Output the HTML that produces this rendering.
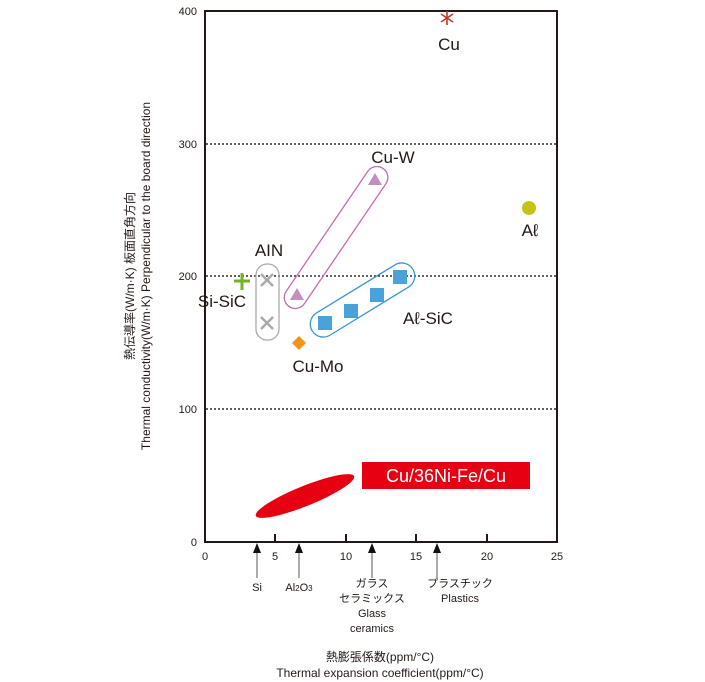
<!DOCTYPE html>
<html><head><meta charset="utf-8"><style>
body{margin:0;background:#fff}
svg{display:block;font-family:"Liberation Sans","Noto Sans CJK JP",sans-serif}
</style></head><body>
<svg width="705" height="682" viewBox="0 0 705 682">
<g stroke="#000" stroke-width="1.3" stroke-dasharray="2,2">
<line x1="206" y1="144" x2="556" y2="144"/><line x1="206" y1="276" x2="556" y2="276"/><line x1="206" y1="409" x2="556" y2="409"/>
</g>
<rect x="205" y="11" width="352" height="531" fill="none" stroke="#231815" stroke-width="2"/>
<g stroke="#231815" stroke-width="2">
<line x1="275" y1="542" x2="275" y2="534"/><line x1="346" y1="542" x2="346" y2="534"/><line x1="416" y1="542" x2="416" y2="534"/><line x1="487" y1="542" x2="487" y2="534"/>
</g>
<g font-size="11" fill="#231815" text-anchor="end">
<text x="197" y="15">400</text><text x="197" y="148">300</text><text x="197" y="280">200</text><text x="197" y="413">100</text><text x="197" y="546">0</text>
</g>
<g font-size="11" fill="#231815" text-anchor="middle">
<text x="205" y="560">0</text><text x="275" y="560">5</text><text x="346" y="560">10</text><text x="416" y="560">15</text><text x="487" y="560">20</text><text x="557" y="560">25</text>
</g>
<g stroke="#555" stroke-width="1">
<line x1="257" y1="550" x2="257" y2="578"/><line x1="299" y1="550" x2="299" y2="578"/><line x1="372" y1="550" x2="372" y2="578"/><line x1="437" y1="550" x2="437" y2="578"/>
</g>
<g fill="#111">
<polygon points="253,553 261,553 257,543"/><polygon points="295,553 303,553 299,543"/><polygon points="368,553 376,553 372,543"/><polygon points="433,553 441,553 437,543"/>
</g>
<g font-size="11" fill="#231815" text-anchor="middle">
<text x="257" y="591">Si</text>
<text x="299" y="591">Al<tspan font-size="8">2</tspan>O<tspan font-size="8">3</tspan></text>
<text x="372" y="587">ガラス</text><text x="372" y="602">セラミックス</text><text x="372" y="617">Glass</text><text x="372" y="632">ceramics</text>
<text x="460" y="587">プラスチック</text><text x="460" y="602">Plastics</text>
<text x="380" y="661" font-size="12">熱膨張係数(ppm/°C)</text>
<text x="380" y="677" font-size="12">Thermal expansion coefficient(ppm/°C)</text>
</g>
<g font-size="12" fill="#231815" text-anchor="middle">
<text transform="translate(134,276) rotate(-90)">熱伝導率(W/m·K) 板面直角方向</text>
<text transform="translate(150,276) rotate(-90)">Thermal conductivity(W/m·K)  Perpendicular to the board direction</text>
</g>
<g stroke="#c0392b" stroke-width="1.6"><line x1="447" y1="11" x2="447" y2="25"/><line x1="441" y1="14" x2="453" y2="22"/><line x1="441" y1="22" x2="453" y2="14"/></g>
<g font-size="17" fill="#231815" text-anchor="middle">
<text x="449" y="50">Cu</text>
<text x="393" y="163">Cu-W</text>
<text x="530" y="236">Aℓ</text>
<text x="269" y="256">AIN</text>
<text x="222" y="307">Si-SiC</text>
<text x="318" y="372">Cu-Mo</text>
<text x="428" y="324">Aℓ-SiC</text>
</g>
<circle cx="529" cy="208" r="7" fill="#c3c31a"/>
<rect x="-14" y="-11" width="167" height="22" rx="11" transform="translate(297,295) rotate(-55.8)" fill="none" stroke="#c06fb0" stroke-width="1.3"/>
<polygon points="375,173 368,185 382,185" fill="#c58ec0"/>
<polygon points="297,288 290,300 304,300" fill="#c58ec0"/>
<rect x="256" y="264" width="23" height="76" rx="11" fill="none" stroke="#aaa" stroke-width="1.3"/>
<g stroke="#aaa" stroke-width="2.5"><line x1="261" y1="274" x2="273" y2="286"/><line x1="273" y1="274" x2="261" y2="286"/><line x1="261" y1="317" x2="273" y2="329"/><line x1="273" y1="317" x2="261" y2="329"/></g>
<g stroke="#77b02a" stroke-width="3"><line x1="234" y1="281" x2="250" y2="281"/><line x1="242" y1="273" x2="242" y2="290"/></g>
<rect x="-15" y="-13" width="118" height="26" rx="13" transform="translate(325,323) rotate(-31.5)" fill="none" stroke="#3a97d0" stroke-width="1.3"/>
<g fill="#4aa3d8"><rect x="318" y="316" width="14" height="14"/><rect x="344" y="304" width="14" height="14"/><rect x="370" y="288" width="14" height="14"/><rect x="393" y="270" width="14" height="14"/></g>
<polygon points="299,336 306,343 299,350 292,343" fill="#f39419"/>
<ellipse cx="305" cy="496" rx="53" ry="10" transform="rotate(-22 305 496)" fill="#e60012"/>
<rect x="362" y="462" width="168" height="27" fill="#e60012"/>
<text x="446" y="482" font-size="18" fill="#fff" text-anchor="middle">Cu/36Ni-Fe/Cu</text>
</svg>
</body></html>
